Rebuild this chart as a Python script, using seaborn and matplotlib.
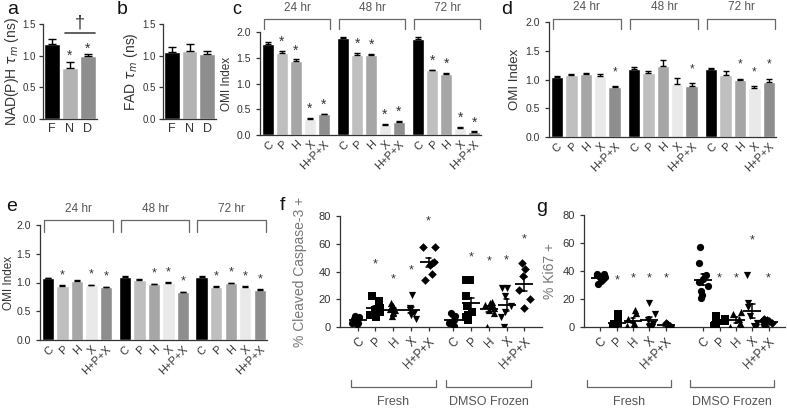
import numpy as np
import pandas as pd
import matplotlib
matplotlib.use("Agg")
import matplotlib.pyplot as plt
import seaborn as sns
from matplotlib.transforms import blended_transform_factory as btf

# ---------------- data ----------------
treatments = ["C", "P", "H", "X", "H+P+X"]
times = ["24 hr", "48 hr", "72 hr"]
groups_fg = ["Fresh", "DMSO Frozen"]

ab_groups = ["F", "N", "D"]
a_mean = [1.18, 0.81, 0.99]
a_sem = [0.08, 0.09, 0.03]
a_sig = [0, 1, 1]
b_mean = [1.06, 1.07, 1.03]
b_sem = [0.08, 0.12, 0.04]

c_mean = [[1.76, 1.59, 1.43, 0.32, 0.40],
          [1.88, 1.55, 1.55, 0.20, 0.26],
          [1.86, 1.26, 1.18, 0.14, 0.06]]
c_sem = [[0.04, 0.05, 0.04, 0.01, 0.01],
         [0.02, 0.04, 0.02, 0.01, 0.01],
         [0.04, 0.01, 0.02, 0.01, 0.01]]
c_sig = [[0, 1, 1, 1, 1], [0, 1, 1, 1, 1], [0, 1, 1, 1, 1]]

d_mean = [[1.04, 1.07, 1.10, 1.06, 0.87],
          [1.19, 1.12, 1.24, 0.93, 0.89],
          [1.18, 1.08, 0.99, 0.85, 0.96]]
d_sem = [[0.02, 0.03, 0.02, 0.03, 0.01],
         [0.03, 0.03, 0.10, 0.10, 0.05],
         [0.02, 0.06, 0.02, 0.03, 0.05]]
d_sig = [[0, 0, 0, 0, 1], [0, 0, 0, 0, 1], [0, 0, 1, 1, 1]]

e_mean = [[1.08, 0.94, 1.03, 0.95, 0.92],
          [1.10, 1.05, 0.97, 1.00, 0.83],
          [1.10, 0.93, 0.99, 0.93, 0.87]]
e_sem = [[0.005, 0.01, 0.01, 0.01, 0.01],
         [0.005, 0.01, 0.01, 0.005, 0.01],
         [0.005, 0.01, 0.01, 0.01, 0.01]]
e_sig = [[0, 1, 0, 1, 1], [0, 0, 1, 1, 1], [0, 1, 1, 1, 1]]

f_fresh = [[2, 3, 3, 4, 5, 5, 6, 7, 8],
           [22, 19, 14, 12, 11, 9, 7],
           [17, 15, 13, 12, 11, 10, 8],
           [23, 14, 12, 10, 9, 6],
           [58, 58, 47, 46, 45, 38, 34]]
f_dmso = [[10, 8, 5, 3, 1],
          [34, 34, 22, 15, 11, 9, 7, 5],
          [18, 17, 16, 15, 14, 12, 10, 0],
          [28, 28, 22, 15, 11, 7, 0],
          [46, 42, 37, 27, 20, 14]]
f_star_fresh = [None, 45, 34, 41, 76]
f_star_dmso = [None, 50, 47, 48, 63]

g_fresh = [[38, 38, 37, 36, 36, 35, 34, 33, 31],
           [9, 8, 3, 2, 1, 0, 0, 0],
           [12, 10, 6, 3, 1, 0, 0],
           [17, 9, 5, 2, 1, 0, 0],
           [3, 2, 1, 1, 0, 0]]
g_dmso = [[57, 46, 37, 34, 32, 29, 26, 23, 21],
          [8, 6, 4, 2, 1, 0],
          [11, 9, 6, 3, 1, 0],
          [37, 17, 14, 8, 3, 1, 0],
          [6, 5, 5, 4, 3, 2, 1]]
g_star_fresh = [None, 33, 35, 35, 35]
g_star_dmso = [None, 35, 35, 62, 35]

# ---------------- style ----------------
sns.set_theme(style="ticks")
plt.rcParams["font.family"] = ["Liberation Sans", "DejaVu Sans"]
plt.rcParams.update({
    "axes.edgecolor": "#333333", "axes.linewidth": 0.9,
    "xtick.color": "#333333", "ytick.color": "#333333",
    "xtick.labelcolor": "#333333", "ytick.labelcolor": "#333333",
    "xtick.major.width": 0.9, "ytick.major.width": 0.9,
    "xtick.major.size": 3, "ytick.major.size": 3,
    "xtick.labelsize": 7.5, "ytick.labelsize": 7.5,
    "axes.labelcolor": "#333333",
})

W, H = 787, 409
fig = plt.figure(figsize=(W / 100, H / 100), dpi=100)


def add_ax(l, t, r, b):
    return fig.add_axes([l / W, 1 - b / H, (r - l) / W, (b - t) / H])


def fy(py):
    return 1 - py / H


def style_ax(ax):
    sns.despine(ax=ax)


def set_ylab(ax, text, right_px, left_px, width_px, size, color="#333333"):
    ax.set_ylabel(text, fontsize=size, color=color)
    ax.yaxis.set_label_coords((right_px - left_px) / width_px, 0.5)


bar_colors = {"C": "#000000", "P": "#bfbfbf", "H": "#a6a6a6",
              "X": "#e9e9e9", "H+P+X": "#8e8e8e"}
ab_colors = {"F": "#000000", "N": "#b3b3b3", "D": "#8e8e8e"}
markers = {"C": "o", "P": "s", "H": "^", "X": "v", "H+P+X": "D"}


def panel_letter(x, y, s, size=13):
    fig.text(x / W, fy(y), s, fontsize=size, ha="left", va="center", color="#111111")


# ---------------- a, b ----------------
def ab_panel(box, means, sems, sigs, ylabel, lab_right):
    ax = add_ax(*box)
    df = pd.DataFrame({"grp": ab_groups, "val": means, "sem": sems})
    sns.barplot(data=df, x="grp", y="val", hue="grp", palette=ab_colors,
                errorbar=None, width=0.9, saturation=1, legend=False, ax=ax)
    ax.errorbar(np.arange(len(df)), df["val"], yerr=[np.zeros(len(df)), df["sem"]],
                fmt="none", ecolor="black", elinewidth=1, capsize=3, capthick=1)
    if sigs is not None:
        for i, s in enumerate(sigs):
            if s:
                ax.annotate("*", (i, means[i] + sems[i]), xytext=(0, 6),
                            textcoords="offset pixels", ha="center", va="center",
                            fontsize=10, color="#333333")
    ax.set_ylim(0, 1.5)
    ax.set_yticks([0, 0.5, 1.0, 1.5], ["0.0", "0.5", "1.0", "1.5"])
    ax.set_xlim(-0.5, 2.5)
    ax.set_xlabel("")
    ax.tick_params(axis="x", length=0, labelsize=9, pad=3)
    ax.tick_params(axis="y", labelsize=7, pad=2)
    style_ax(ax)
    set_ylab(ax, ylabel, lab_right, box[0], box[2] - box[0], 10)
    return ax


ax_a = ab_panel((43, 24, 97, 119), a_mean, a_sem, a_sig, r"NAD(P)H $\tau_m$ (ns)", 21)
ax_a.plot([0.72, 2.4], [1.36, 1.36], color="#444444", lw=1.2, clip_on=False)
ax_a.text(1.56, 1.52, "†", ha="center", va="center", fontsize=13, color="#333333")
ax_b = ab_panel((163, 24, 216, 119), b_mean, b_sem, None, r"FAD $\tau_m$ (ns)", 140)

panel_letter(7, 9, "a", 14)
panel_letter(117, 9, "b", 14)


# ---------------- c, d, e ----------------
def time_panel(box, means, sems, sigs, step, xlim, star_off, star_size,
               br_top, br_end, br_lab, lab_right, lab_size):
    ax = add_ax(*box)
    rows = []
    for g, t in enumerate(times):
        for i, tr in enumerate(treatments):
            rows.append(dict(pos=g * step + i, val=means[g][i], sem=sems[g][i],
                             trt=tr, time=t, sig=sigs[g][i]))
    df = pd.DataFrame(rows)
    sns.barplot(data=df, x="pos", y="val", hue="trt", palette=bar_colors,
                native_scale=True, dodge=False, errorbar=None, width=0.86,
                saturation=1, legend=False, ax=ax)
    ax.errorbar(df["pos"], df["val"], yerr=[np.zeros(len(df)), df["sem"]],
                fmt="none", ecolor="black", elinewidth=1, capsize=2.5, capthick=1)
    for _, r in df[df["sig"] == 1].iterrows():
        ax.annotate("*", (r["pos"], r["val"] + r["sem"]), xytext=(0, star_off),
                    textcoords="offset pixels", ha="center", va="center",
                    fontsize=star_size, color="#333333")
    ax.set_ylim(0, 2.0)
    ax.set_yticks([0, 0.5, 1.0, 1.5, 2.0], ["0.0", "0.5", "1.0", "1.5", "2.0"])
    ax.set_xlim(*xlim)
    ax.set_xticks(df["pos"], df["trt"], rotation=45, ha="right",
                  rotation_mode="anchor")
    ax.tick_params(axis="x", length=0, labelsize=8, pad=3)
    ax.set_xlabel("")
    style_ax(ax)
    set_ylab(ax, "OMI Index", lab_right, box[0], box[2] - box[0], lab_size)
    trans = btf(ax.transData, fig.transFigure)
    for g, t in enumerate(times):
        x0 = g * step - 0.3
        x1 = g * step + 4 + 0.45
        ax.plot([x0, x0, x1, x1], [fy(br_end), fy(br_top), fy(br_top), fy(br_end)],
                transform=trans, color="#666666", lw=0.9, clip_on=False)
        ax.text((x0 + x1) / 2, fy(br_lab), t, transform=trans, ha="center",
                va="center", fontsize=8.5, color="#555555")
    return ax


time_panel((260, 32, 481, 135), c_mean, c_sem, c_sig, 5.4, (-0.58, 15.3),
           9, 10, 19, 29, 8, 233, 8.5)
time_panel((549, 22, 776, 137), d_mean, d_sem, d_sig, 5.35, (-0.55, 15.2),
           14, 8.5, 19, 29, 7, 521, 9.5)
time_panel((40, 225, 267, 340), e_mean, e_sem, e_sig, 5.3, (-0.55, 15.1),
           10, 9, 220, 232, 209, 15, 8.5)
panel_letter(232, 9, "c", 13)
panel_letter(501, 9, "d", 14)
panel_letter(6, 207, "e", 14)


# ---------------- f, g ----------------
def scatter_panel(box, fresh, dmso, st_fresh, st_dmso, offset, xlim,
                  ylabel, lab_right, br_x, seed):
    ax = add_ax(*box)
    rows = []
    for gi, data in enumerate([fresh, dmso]):
        for i, tr in enumerate(treatments):
            for v in data[i]:
                rows.append(dict(pos=gi * offset + i, val=v, trt=tr, grp=groups_fg[gi]))
    df = pd.DataFrame(rows)
    np.random.seed(seed)
    for tr in treatments:
        sub = df[df["trt"] == tr]
        # each subset spans both groups, so its native width is `offset`
        sns.stripplot(data=sub, x="pos", y="val", native_scale=True,
                      jitter=0.34 / offset,
                      marker=markers[tr], color="black",
                      size=5.2 if tr != "H+P+X" else 4.4,
                      linewidth=0, ax=ax)
    sns.pointplot(data=df, x="pos", y="val", native_scale=True, errorbar="se",
                  linestyle="none", marker="_", markersize=13, markeredgewidth=1.3,
                  capsize=0.3, color="black", err_kws={"linewidth": 1.1}, ax=ax)
    for gi, stars in enumerate([st_fresh, st_dmso]):
        for i, s in enumerate(stars):
            if s is not None:
                ax.text(gi * offset + i, s, "*", ha="center", va="center",
                        fontsize=9, color="#333333")
    ax.set_ylim(0, 80)
    ax.set_yticks([0, 20, 40, 60, 80])
    ax.set_xlim(*xlim)
    pos = [gi * offset + i for gi in range(2) for i in range(5)]
    ax.set_xticks(pos, treatments * 2, rotation=45, ha="right", rotation_mode="anchor")
    ax.tick_params(axis="x", labelsize=8.5, pad=3, length=3)
    ax.tick_params(axis="y", labelsize=8)
    ax.set_xlabel("")
    style_ax(ax)
    set_ylab(ax, ylabel, lab_right, box[0], box[2] - box[0], 10, "#777777")
    trans = btf(ax.transData, fig.transFigure)
    for gi, g in enumerate(groups_fg):
        x0 = gi * offset + br_x[0]
        x1 = gi * offset + 4 + br_x[1]
        ax.plot([x0, x0, x1, x1], [fy(380), fy(387), fy(387), fy(380)],
                transform=trans, color="#666666", lw=0.9, clip_on=False)
        ax.text((x0 + x1) / 2, fy(402), g, transform=trans, ha="center",
                va="center", fontsize=9, color="#555555")
    return ax


scatter_panel((340, 216, 542, 327), f_fresh, f_dmso, f_star_fresh, f_star_dmso,
              5.4, (-1.0, 10.4), "% Cleaved Caspase-3 +", 307, (-0.4, 0.4), 2)
scatter_panel((584, 215, 785, 327), g_fresh, g_dmso, g_star_fresh, g_star_dmso,
              6.3, (-1.0, 11.3), "% Ki67 +", 557, (-0.8, 0.3), 5)
panel_letter(280, 206, "f", 14)
panel_letter(536, 208, "g", 14)

fig.savefig("out.png", dpi=100)
